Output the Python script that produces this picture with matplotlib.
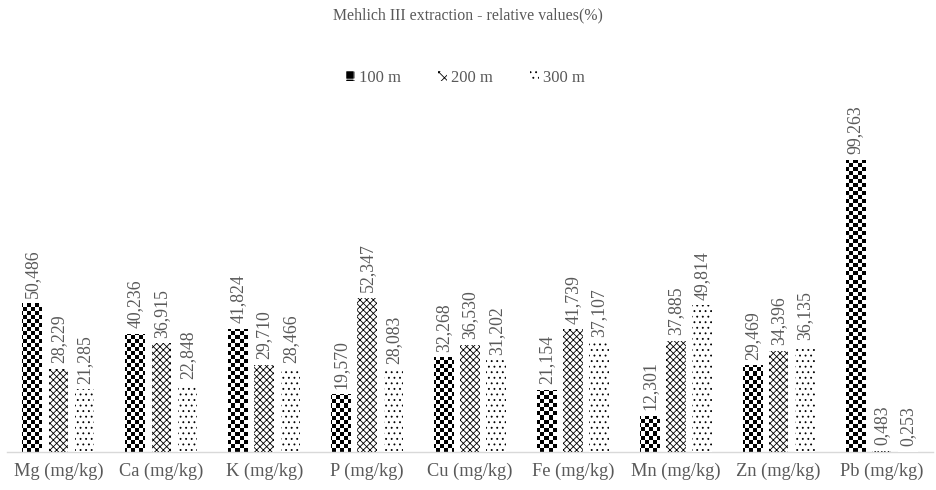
import matplotlib
matplotlib.use('Agg')
import matplotlib.pyplot as plt
import numpy as np
from matplotlib.patches import Rectangle

# values
categories = ['Mg (mg/kg)', 'Ca (mg/kg)', 'K (mg/kg)', 'P (mg/kg)', 'Cu (mg/kg)',
              'Fe (mg/kg)', 'Mn (mg/kg)', 'Zn (mg/kg)', 'Pb (mg/kg)']
series_names = ['100 m', '200 m', '300 m']
vals_100 = [50.486, 40.236, 41.824, 19.570, 32.268, 21.154, 12.301, 29.469, 99.263]
vals_200 = [28.229, 36.915, 29.710, 52.347, 36.530, 41.739, 37.885, 34.396, 0.483]
vals_300 = [21.285, 22.848, 28.466, 28.083, 31.202, 37.107, 49.814, 36.135, 0.253]

plt.rcParams['font.family'] = ['Liberation Serif', 'DejaVu Serif']
plt.rcParams['hatch.linewidth'] = 0.6
grey = '#595959'

fig = plt.figure(figsize=(9.36, 4.9), dpi=100)
ax = fig.add_axes([7 / 936, 38 / 490, 926 / 936, 353 / 490])

x = np.arange(len(categories))
step = 0.255
width = 0.19
ymax = 120
ax.set_xlim(-0.5, len(categories) - 0.5)
ax.set_ylim(0, ymax)

# checkerboard texture for the 100 m bars (~4 px squares)
n_cols = int(926 / 4)
n_rows = int(353 / 4)
checker = (np.add.outer(np.arange(n_rows), np.arange(n_cols)) % 2).astype(float)

bars1 = ax.bar(x - step, vals_100, width, color='white', edgecolor='none')
for b in bars1:
    im = ax.imshow(checker, cmap='gray', extent=(-0.5, len(categories) - 0.5, 0, ymax),
                   aspect='auto', interpolation='nearest', zorder=2)
    im.set_clip_path(b)
bars2 = ax.bar(x, vals_200, width, color='white', edgecolor='black', hatch='xxxxx',
               linewidth=0, zorder=3)
bars3 = ax.bar(x + step, vals_300, width, color='white', edgecolor='black', hatch='...',
               linewidth=0, zorder=3)
ax.set_xlim(-0.5, len(categories) - 0.5)
ax.set_ylim(0, ymax)

# data labels
for bars, vals in [(bars1, vals_100), (bars2, vals_200), (bars3, vals_300)]:
    for b, v in zip(bars, vals):
        ax.annotate(f'{v:.3f}'.replace('.', ','), (b.get_x() + b.get_width() / 2, v),
                    xytext=(0, 4), textcoords='offset points', rotation=90,
                    ha='center', va='bottom', fontsize=12.8, color=grey, zorder=5)

for s in ['top', 'right', 'left']:
    ax.spines[s].set_visible(False)
ax.spines['bottom'].set_color('#d9d9d9')
ax.spines['bottom'].set_linewidth(1)
ax.set_yticks([])
ax.set_xticks(x)
ax.set_xticklabels(categories, fontsize=13.2, color=grey)
ax.tick_params(axis='x', length=0, pad=8)

fig.text(0.5, 1 - 15 / 490, 'Mehlich III extraction - relative values(%)',
         ha='center', va='center', fontsize=11.4, color=grey)

handles = [Rectangle((0, 0), 1, 1, facecolor='black', edgecolor='white', hatch='++', linewidth=0),
           Rectangle((0, 0), 1, 1, facecolor='white', edgecolor='black', hatch='xxx', linewidth=0),
           Rectangle((0, 0), 1, 1, facecolor='white', edgecolor='black', hatch='...', linewidth=0)]
fig.legend(handles, series_names, loc='center', bbox_to_anchor=(0.497, 1 - 78 / 490),
           ncol=3, frameon=False, fontsize=12, labelcolor=grey,
           handlelength=0.55, handleheight=0.55, handletextpad=0.25, columnspacing=2.2)

fig.savefig('out.png', dpi=100)
